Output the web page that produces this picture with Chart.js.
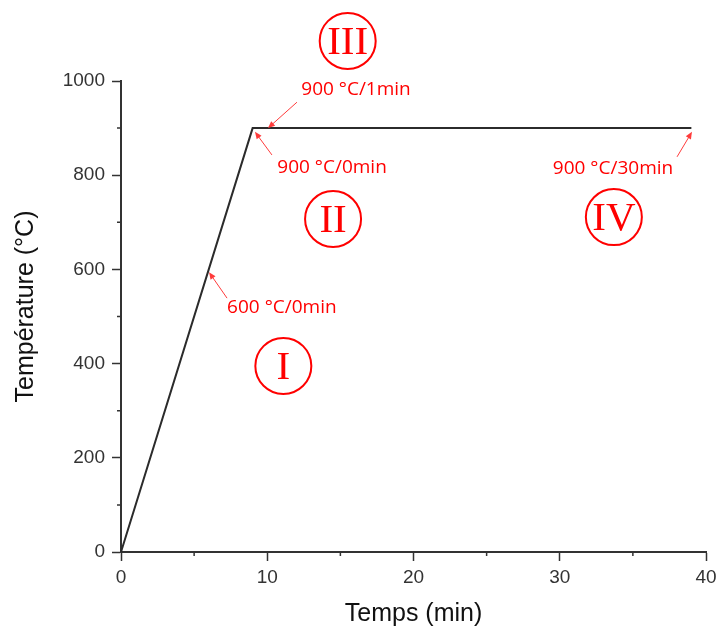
<!DOCTYPE html>
<html>
<head>
<meta charset="utf-8">
<script src="https://cdn.jsdelivr.net/npm/chart.js@4"></script>
<style>
  html,body{margin:0;padding:0;background:#fff;}
  #wrap{width:716px;height:629px;}
</style>
</head>
<body>
<div id="wrap"><canvas id="chart" width="716" height="629"></canvas></div>
<script>
// data: heating profile
const timeMin = [0, 9, 39];
const tempC = [0, 900, 900];

// axis ticks
const xMajor = [0, 10, 20, 30, 40];
const xMinor = [5, 15, 25, 35];
const yMajor = [0, 200, 400, 600, 800, 1000];
const yMinor = [100, 300, 500, 700, 900];

// annotations (in data units)
const labelTexts = ['900 °C/1min', '900 °C/0min', '600 °C/0min', '900 °C/30min'];
const labelX = [16.07, 14.43, 11.0, 33.64];
const labelY = [981, 817, 518, 815];
const arrowTail = [[12.03, 955], [10.32, 843], [7.25, 539], [38.02, 839]];
const arrowTip = [[10.05, 900], [9.16, 892], [6.02, 594], [39.04, 892]];
const stageNames = ['I', 'II', 'III', 'IV'];
const stageX = [11.1, 14.5, 15.5, 33.7];
const stageY = [395, 707, 1085, 711];

const RED = '#ff0000';
const AXIS = '#333333';
const SANS = '"Liberation Sans", Arial';

// minor ticks + y axis title (drawn a bit above centre like the original)
const extras = {
  id: 'extras',
  afterDraw(chart){
    const ctx = chart.ctx, x = chart.scales.x, y = chart.scales.y;
    ctx.save();
    ctx.strokeStyle = AXIS;
    ctx.lineWidth = 1.5;
    ctx.beginPath();
    xMinor.forEach(v => {
      const px = x.getPixelForValue(v);
      ctx.moveTo(px, x.top);
      ctx.lineTo(px, x.top + 4);
    });
    yMinor.forEach(v => {
      const py = y.getPixelForValue(v);
      ctx.moveTo(y.right, py);
      ctx.lineTo(y.right - 4, py);
    });
    ctx.stroke();

    ctx.translate(26, (y.top + y.bottom) / 2 - 10);
    ctx.rotate(-Math.PI / 2);
    ctx.fillStyle = '#111';
    ctx.font = '25px ' + SANS;
    ctx.textAlign = 'center';
    ctx.textBaseline = 'middle';
    ctx.fillText('Température (°C)', 0, 0);
    ctx.restore();
  }
};

// red labels, arrows and circled stage numbers
const notes = {
  id: 'notes',
  afterDraw(chart){
    const ctx = chart.ctx, x = chart.scales.x, y = chart.scales.y;
    ctx.save();
    // arrows
    ctx.strokeStyle = '#ff3b3b';
    ctx.fillStyle = '#ff3b3b';
    ctx.lineWidth = 1;
    arrowTail.forEach((t, i) => {
      const x0 = x.getPixelForValue(t[0]), y0 = y.getPixelForValue(t[1]);
      const x1 = x.getPixelForValue(arrowTip[i][0]), y1 = y.getPixelForValue(arrowTip[i][1]);
      const a = Math.atan2(y1 - y0, x1 - x0);
      ctx.beginPath();
      ctx.moveTo(x0, y0);
      ctx.lineTo(x1 - 4 * Math.cos(a), y1 - 4 * Math.sin(a));
      ctx.stroke();
      ctx.beginPath();
      ctx.moveTo(x1, y1);
      ctx.lineTo(x1 - 7 * Math.cos(a) + 3 * Math.sin(a), y1 - 7 * Math.sin(a) - 3 * Math.cos(a));
      ctx.lineTo(x1 - 7 * Math.cos(a) - 3 * Math.sin(a), y1 - 7 * Math.sin(a) + 3 * Math.cos(a));
      ctx.closePath();
      ctx.fill();
    });
    // texts
    ctx.fillStyle = RED;
    ctx.font = '19px "Open Sans"';
    ctx.textAlign = 'center';
    ctx.textBaseline = 'middle';
    labelTexts.forEach((s, i) => {
      ctx.fillText(s, x.getPixelForValue(labelX[i]), y.getPixelForValue(labelY[i]));
    });
    // circled roman numerals
    ctx.strokeStyle = RED;
    ctx.lineWidth = 2;
    ctx.font = '41px "Liberation Serif"';
    stageNames.forEach((s, i) => {
      const cx = x.getPixelForValue(stageX[i]), cy = y.getPixelForValue(stageY[i]);
      ctx.beginPath();
      ctx.arc(cx, cy, 28, 0, Math.PI * 2);
      ctx.stroke();
      ctx.fillText(s, cx, cy + 2);
    });
    ctx.restore();
  }
};

new Chart(document.getElementById('chart'), {
  type: 'line',
  data: {
    datasets: [{
      data: timeMin.map((t, i) => ({x: t, y: tempC[i]})),
      borderColor: '#2b2b2b',
      borderWidth: 2,
      pointRadius: 0,
      tension: 0,
      clip: false
    }]
  },
  options: {
    responsive: false,
    animation: false,
    layout: {padding: {top: 81, right: 10, left: 0, bottom: 0}},
    plugins: {legend: {display: false}, tooltip: {enabled: false}},
    scales: {
      x: {
        type: 'linear',
        min: 0, max: 40,
        afterBuildTicks: s => { s.ticks = xMajor.map(v => ({value: v})); },
        afterFit: s => { s.height = 77; s.paddingRight = 0; s.paddingLeft = 0; },
        border: {display: true, color: AXIS, width: 2},
        grid: {drawOnChartArea: false, drawTicks: true, tickLength: 9, tickColor: AXIS, tickWidth: 1.5},
        ticks: {color: AXIS, font: {family: SANS, size: 19}, padding: 5, maxRotation: 0, callback: v => String(v)},
        title: {display: true, text: 'Temps (min)', color: '#111', font: {family: SANS, size: 25}, padding: {top: 1, bottom: 0}}
      },
      y: {
        min: 0, max: 1000,
        afterBuildTicks: s => { s.ticks = yMajor.map(v => ({value: v})); },
        afterFit: s => { s.width = 121; s.paddingTop = 0; },
        border: {display: true, color: AXIS, width: 2},
        grid: {drawOnChartArea: false, drawTicks: true, tickLength: 9, tickColor: AXIS, tickWidth: 1.5},
        ticks: {color: AXIS, font: {family: SANS, size: 19}, padding: 7, callback: v => String(v)}
      }
    }
  },
  plugins: [extras, notes]
});
</script>
</body>
</html>
